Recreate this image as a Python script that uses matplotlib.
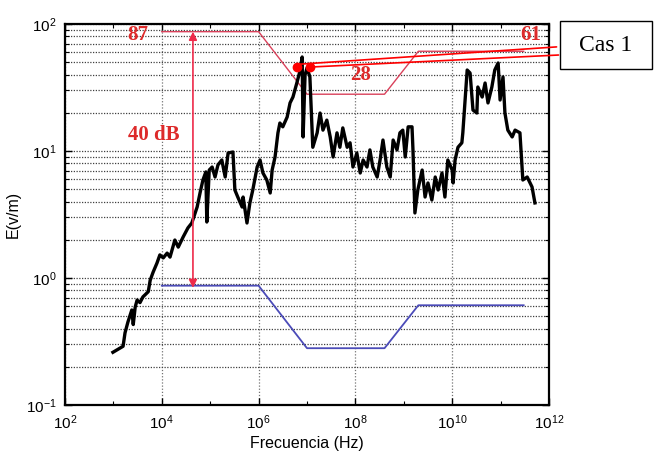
import numpy as np
import matplotlib.pyplot as plt
from matplotlib.patches import Rectangle
from matplotlib.ticker import LogLocator, NullFormatter

# Espectro medido: exponente de la frecuencia (log10 Hz) y campo E (V/m)
freq_exp = [2.99, 3.20, 3.24, 3.30, 3.38, 3.41, 3.45, 3.49, 3.55, 3.61, 3.72, 3.76,
            3.82, 3.90, 3.96, 4.03, 4.11, 4.17, 4.27, 4.34, 4.44, 4.54, 4.62, 4.73,
            4.79, 4.85, 4.91, 4.93, 4.98, 5.04, 5.10, 5.16, 5.24, 5.31, 5.37, 5.47,
            5.51, 5.57, 5.66, 5.68, 5.76, 5.82, 5.88, 5.97, 6.03, 6.09, 6.17, 6.24,
            6.28, 6.34, 6.40, 6.44, 6.50, 6.59, 6.65, 6.71, 6.79, 6.86, 6.90, 6.92,
            6.96, 7.00, 7.06, 7.12, 7.21, 7.27, 7.33, 7.41, 7.48, 7.54, 7.62, 7.68,
            7.74, 7.83, 7.89, 7.95, 8.03, 8.10, 8.16, 8.24, 8.30, 8.36, 8.45, 8.51,
            8.57, 8.65, 8.72, 8.78, 8.86, 8.92, 8.98, 9.03, 9.09, 9.17, 9.19, 9.23,
            9.29, 9.38, 9.44, 9.50, 9.58, 9.65, 9.71, 9.79, 9.85, 9.91, 10.00, 10.02,
            10.06, 10.12, 10.20, 10.22, 10.31, 10.37, 10.43, 10.51, 10.53, 10.62, 10.68, 10.74,
            10.82, 10.88, 10.95, 10.99, 11.05, 11.09, 11.15, 11.24, 11.30, 11.40, 11.46, 11.55,
            11.65, 11.71]
e_field = [0.26, 0.29, 0.37, 0.45, 0.56, 0.43, 0.59, 0.67, 0.64, 0.71, 0.78, 0.96,
           1.11, 1.31, 1.52, 1.44, 1.57, 1.46, 1.99, 1.75, 2.10, 2.48, 2.71, 3.62,
           4.67, 5.91, 6.84, 2.76, 7.08, 7.48, 6.24, 7.76, 8.49, 6.24, 9.64, 9.82,
           4.93, 4.34, 3.62, 4.34, 2.71, 3.90, 4.93, 7.48, 8.49, 6.71, 5.91, 4.67,
           7.08, 8.97, 13.9, 16.6, 15.5, 18.5, 23.9, 26.6, 34.3, 43.4, 55.0, 12.9,
           39.7, 45.1, 38.3, 10.7, 13.9, 19.9, 14.6, 17.5, 12.9, 8.97, 13.9, 10.7,
           15.2, 10.7, 11.6, 7.48, 9.64, 6.71, 8.49, 7.48, 10.2, 7.48, 6.24, 8.49,
           12.2, 7.48, 6.24, 12.2, 10.2, 13.9, 14.6, 8.97, 15.5, 15.5, 10.2, 3.25,
           4.93, 7.08, 4.34, 5.60, 4.11, 6.24, 4.93, 6.71, 4.34, 8.49, 7.08, 5.60,
           8.49, 10.7, 11.6, 13.9, 43.4, 41.1, 21.0, 19.9, 31.9, 26.6, 34.3, 23.9,
           31.9, 43.4, 49.3, 25.2, 38.3, 19.9, 14.6, 12.9, 14.6, 13.9, 5.91, 6.24,
           5.21, 3.90]

# Niveles de referencia (V/m)
limit_freq = [1e4, 1e6, 1e7, 4e8, 2e9, 3e11]
limit_e = [87, 87, 28, 28, 61, 61]
margin_db = 40
target_e = [v / 10 ** (margin_db / 20) for v in limit_e]

# Puntos marcados (Cas 1)
case_freq = [6.2e6, 1.15e7]
case_e = [45.8, 45.8]
arrow_freq = 4.4e4

freq = 10 ** np.array(freq_exp)

plt.rcParams['font.family'] = ['Liberation Sans', 'DejaVu Sans']
fig = plt.figure(figsize=(6.54, 4.51), dpi=100)
ax = fig.add_axes([0.0994, 0.102, 0.7400, 0.8448])

ax.set_xscale('log')
ax.set_yscale('log')
ax.set_xlim(1e2, 1e12)
ax.set_ylim(1e-1, 1e2)

# rejilla estilo matlab
ax.xaxis.set_major_locator(LogLocator(base=100.0))
ax.xaxis.set_minor_locator(LogLocator(base=10.0, numticks=20))
ax.xaxis.set_minor_formatter(NullFormatter())
ax.yaxis.set_minor_locator(LogLocator(base=10.0, subs=np.arange(2, 10)))
ax.yaxis.set_minor_formatter(NullFormatter())
ax.grid(True, which='major', axis='x', linestyle=(0, (1, 1.5)), color='0.45', lw=0.9)
ax.grid(True, which='both', axis='y', linestyle=(0, (1, 1.2)), color='0.25', lw=0.9)
ax.set_axisbelow(True)

ax.tick_params(which='both', direction='in', top=True, right=True, labelsize=11)
ax.tick_params(which='major', length=5, width=1)
ax.tick_params(which='minor', length=3, width=0.8)
ax.tick_params(axis='x', pad=6)
ax.tick_params(axis='y', pad=6)
for s in ax.spines.values():
    s.set_linewidth(1.6)

ax.plot(limit_freq, limit_e, color='#d9405a', lw=1.0)
ax.plot(limit_freq, target_e, color='#4b4bb8', lw=1.3)
ax.plot(freq, e_field, color='black', lw=2.4, solid_joinstyle='round')

# flecha de 40 dB
ax.annotate('', xy=(arrow_freq, target_e[0] * 0.96), xytext=(arrow_freq, limit_e[0]),
            arrowprops=dict(arrowstyle='<|-|>', color='#ee2a4a', lw=1.2,
                            mutation_scale=12, shrinkA=0, shrinkB=0))

red = '#dd2a2a'
serif = dict(family=['Liberation Serif', 'DejaVu Serif'], weight='bold', color=red, fontsize=15)
ax.text(3.2e3, 82, '%d' % limit_e[0], ha='center', va='center', **serif)
ax.text(6.9e3, 13.4, '%d dB' % margin_db, ha='center', va='center', **serif)
ax.text(1.25e8, 39.6, '%d' % limit_e[2], ha='center', va='center', **serif)
ax.text(4.1e11, 82, '%d' % limit_e[4], ha='center', va='center', **serif)

ax.plot(case_freq, case_e, 'o', color='red', ms=6, zorder=5)
ax.annotate('', xy=(case_freq[0], case_e[0] * 1.05), xycoords='data',
            xytext=(0.851, 0.896), textcoords='figure fraction',
            arrowprops=dict(arrowstyle='-', color='red', lw=1.2, shrinkA=0, shrinkB=0))
ax.annotate('', xy=(case_freq[1], case_e[1]), xycoords='data',
            xytext=(0.854, 0.878), textcoords='figure fraction',
            arrowprops=dict(arrowstyle='-', color='red', lw=1.2, shrinkA=0, shrinkB=0))

fig.patches.append(Rectangle((0.856, 0.847), 0.141, 0.106, transform=fig.transFigure,
                             fill=False, edgecolor='black', lw=1.0))
fig.text(0.9265, 0.900, 'Cas 1', ha='center', va='center', fontsize=17,
         family=['Liberation Serif', 'DejaVu Serif'])

ax.set_xlabel('Frecuencia (Hz)', fontsize=11.5, labelpad=3)
ax.set_ylabel('E(v/m)', fontsize=11.5, labelpad=4)

fig.savefig('out.png', dpi=100)
